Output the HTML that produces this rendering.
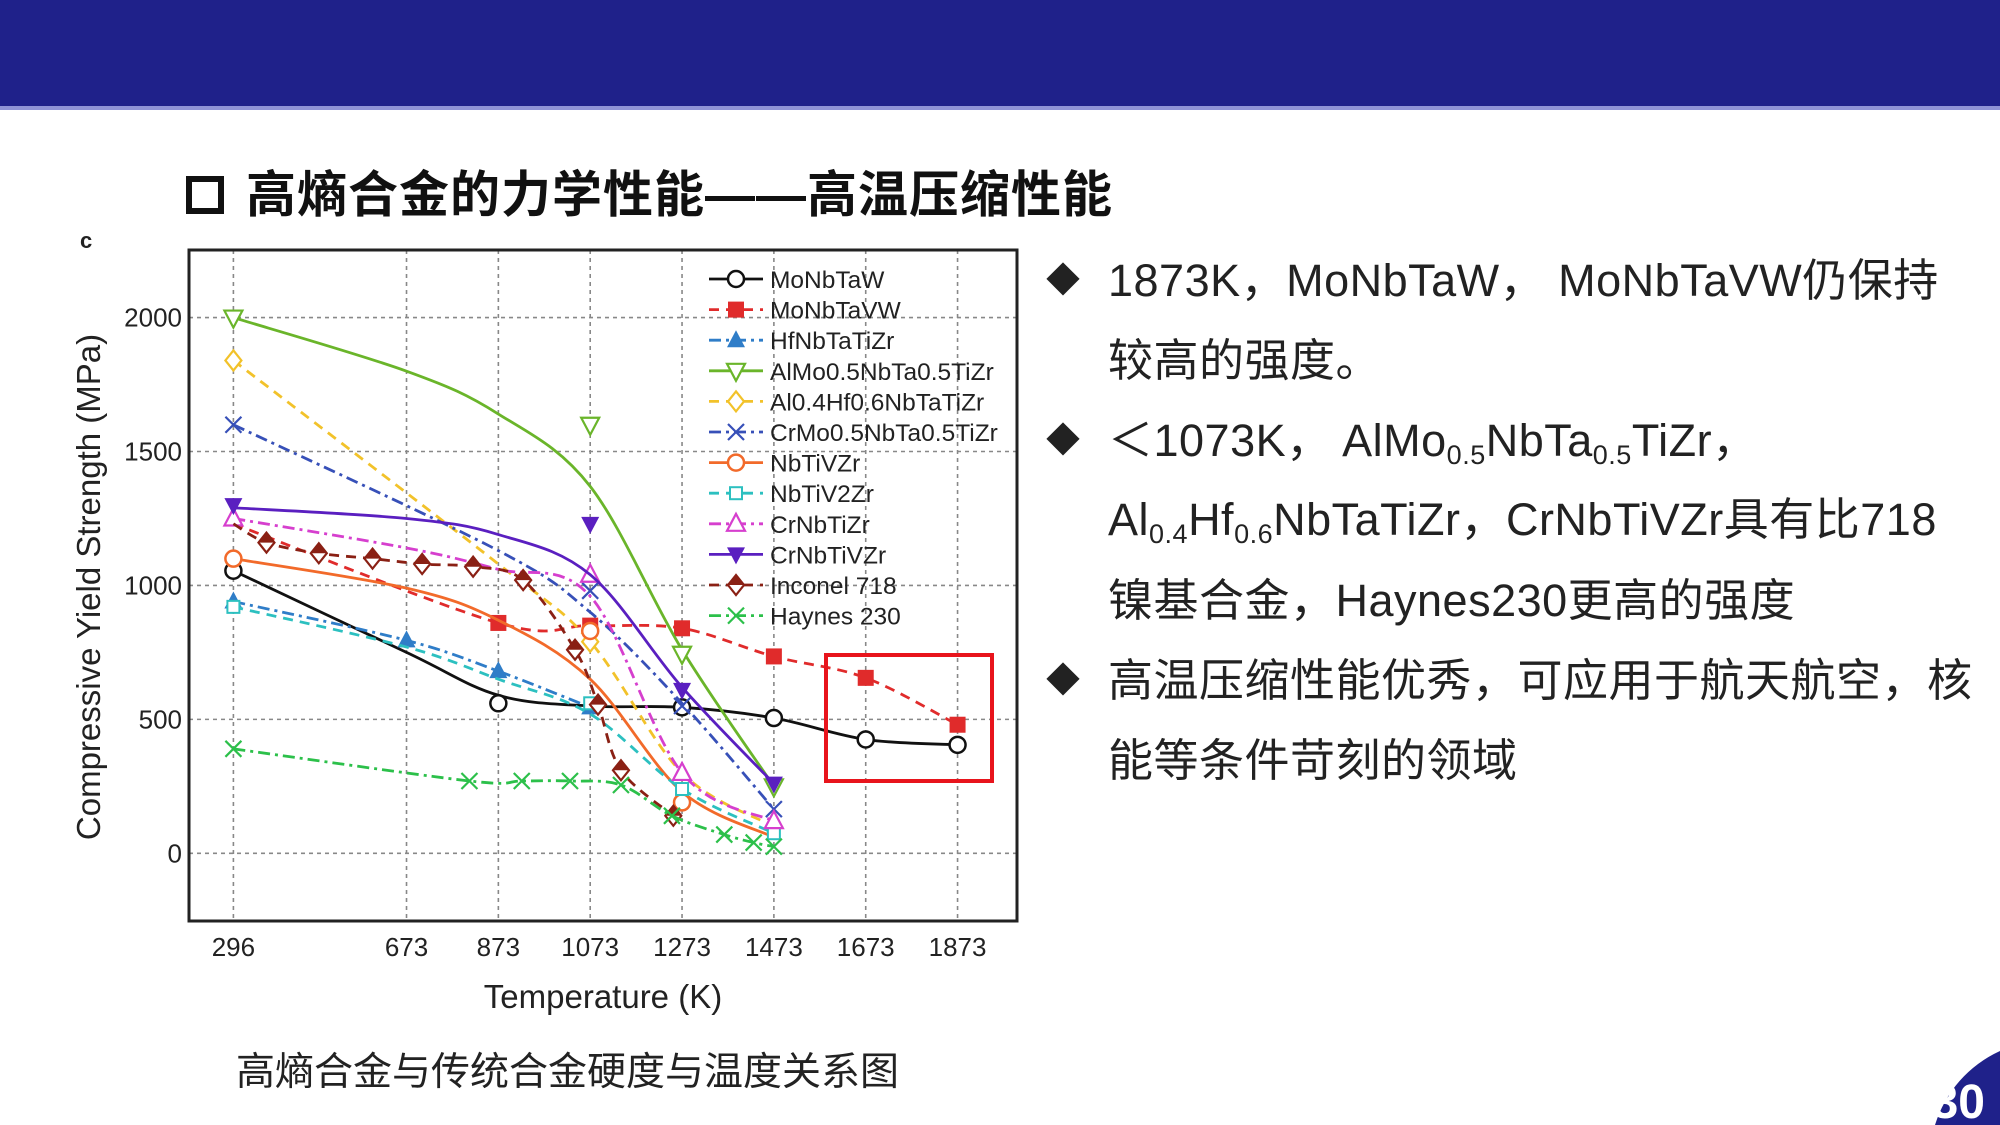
<!DOCTYPE html>
<html><head><meta charset="utf-8"><style>
html{margin:0;padding:0;width:2000px;height:1125px;overflow:hidden;}
body{margin:0;padding:0;background:#fff;width:2000px;height:1125px;overflow:hidden;position:relative;font-family:"Liberation Sans","Noto Sans CJK SC",sans-serif;}
.banner{position:absolute;left:0;top:0;width:2000px;height:106px;background:#1f218a;border-bottom:4px solid #8f93d6;}
.title{position:absolute;left:186px;top:165px;font-size:50px;font-weight:bold;color:#111;line-height:60px;white-space:nowrap;letter-spacing:1px;}
.title .box{display:inline-block;width:26px;height:26px;border:6px solid #111;margin-right:22px;vertical-align:-2px;}
.bul{position:absolute;left:1046px;font-size:45px;color:#222;line-height:80px;white-space:nowrap;letter-spacing:0.5px;}
.bul .d{position:absolute;left:0;font-size:34px;}
.bul .t{position:absolute;left:62px;}
sub{font-size:27px;vertical-align:-8px;line-height:0;}
.cap{position:absolute;left:236px;top:1048px;font-size:39px;line-height:50px;color:#222;white-space:nowrap;}
</style></head><body>
<div class="banner"></div>
<div class="title"><span class="box"></span>高熵合金的力学性能——高温压缩性能</div>

<div class="bul" style="top:241px"><span class="d">◆</span><span class="t">1873K，MoNbTaW， MoNbTaVW仍保持</span></div>
<div class="bul" style="top:321px"><span class="t">较高的强度。</span></div>
<div class="bul" style="top:401px"><span class="d">◆</span><span class="t">＜1073K， AlMo<sub>0.5</sub>NbTa<sub>0.5</sub>TiZr，</span></div>
<div class="bul" style="top:480px"><span class="t">Al<sub>0.4</sub>Hf<sub>0.6</sub>NbTaTiZr，CrNbTiVZr具有比718</span></div>
<div class="bul" style="top:561px"><span class="t">镍基合金，Haynes230更高的强度</span></div>
<div class="bul" style="top:641px"><span class="d">◆</span><span class="t">高温压缩性能优秀，可应用于航天航空，核</span></div>
<div class="bul" style="top:721px"><span class="t">能等条件苛刻的领域</span></div>

<div class="cap">高熵合金与传统合金硬度与温度关系图</div>

<svg width="2000" height="1125" style="position:absolute;left:0;top:0;overflow:hidden" id="chart">
<path d="M1935,1125 A120,120 0 0 1 2000,1051 L2000,1125 Z" fill="#1f218a"></path>
<text x="1985" y="1118" text-anchor="end" font-size="48" font-weight="bold" fill="#fff" font-family="Liberation Sans, sans-serif">30</text>
</svg>

<script>
const xTicks = [296,673,873,1073,1273,1473,1673,1873];
const yTicks = [0,500,1000,1500,2000];
const legendNames = ["MoNbTaW","MoNbTaVW","HfNbTaTiZr","AlMo0.5NbTa0.5TiZr","Al0.4Hf0.6NbTaTiZr","CrMo0.5NbTa0.5TiZr","NbTiVZr","NbTiV2Zr","CrNbTiZr","CrNbTiVZr","Inconel 718","Haynes 230"];

const moNbTaW_T = [296,673,873,1073,1273,1473,1673,1873];
const moNbTaW_V = [1055,750,590,550,545,505,425,405];
const moNbTaW_MT = [296,873,1273,1473,1673,1873];
const moNbTaW_MV = [1055,560,545,505,425,405];

const moNbTaVW_T = [296,873,1073,1273,1473,1673,1873];
const moNbTaVW_V = [1230,860,850,840,735,655,480];

const hf_T = [296,673,873,1073];
const hf_V = [940,795,680,545];

const alMo_T = [296,673,873,1073,1273,1473];
const alMo_V = [2000,1800,1640,1370,760,250];
const alMo_MT = [296,1073,1273,1473];
const alMo_MV = [2000,1600,745,250];

const alHf_T = [296,873,1073,1273,1473];
const alHf_V = [1840,1080,790,300,100];
const alHf_MT = [296,1073,1473];
const alHf_MV = [1840,790,100];

const crMo_T = [296,873,1073,1273,1473];
const crMo_V = [1600,1130,900,560,165];
const crMo_MT = [296,1073,1273,1473];
const crMo_MV = [1600,980,550,165];

const nbTiVZr_T = [296,673,873,1073,1273,1473];
const nbTiVZr_V = [1100,990,870,650,230,60];
const nbTiVZr_MT = [296,1073,1273];
const nbTiVZr_MV = [1100,830,190];

const nbTiV2Zr_T = [296,673,873,1073,1273,1473];
const nbTiV2Zr_V = [920,770,650,520,240,75];
const nbTiV2Zr_MT = [296,1073,1273,1473];
const nbTiV2Zr_MV = [920,560,240,75];

const crNbTiZr_T = [296,673,873,1073,1273,1473];
const crNbTiZr_V = [1250,1140,1060,960,300,120];
const crNbTiZr_MT = [296,1073,1273,1473];
const crNbTiZr_MV = [1250,1040,300,120];

const crNbTiVZr_T = [296,673,873,1073,1273,1473];
const crNbTiVZr_V = [1290,1250,1190,1040,620,260];
const crNbTiVZr_MT = [296,1073,1273,1473];
const crNbTiVZr_MV = [1300,1230,610,260];

const inconel_T = [296,368,482,599,707,818,927,1040,1090,1140,1254];
const inconel_V = [1230,1160,1120,1100,1080,1070,1020,760,555,310,140];
const inconel_MT = [368,482,599,707,818,927,1040,1090,1140,1254];
const inconel_MV = [1160,1120,1100,1080,1070,1020,760,555,310,140];

const haynes_T = [296,810,924,1029,1140,1251,1365,1429,1473];
const haynes_V = [390,270,270,270,255,140,70,40,25];

const NS = "http://www.w3.org/2000/svg";
const svg = document.getElementById('chart');
const L=189,R=1017,T=250,B=921;
function xs(t){return 233.4+(t-296)*0.4592;}
function ys(v){return 853.3-v*0.26786;}
function mk(tag,attrs,parent){const e=document.createElementNS(NS,tag);for(const k in attrs)e.setAttribute(k,attrs[k]);(parent||svg).appendChild(e);return e;}

xTicks.forEach(t=>{
  const g=mk('line',{x1:xs(t),x2:xs(t),y1:T,y2:B,stroke:'#888','stroke-width':1.6,'stroke-dasharray':'4 4'});
  
  
  const lb=mk('text',{x:xs(t),y:956,'text-anchor':'middle','font-size':26,fill:'#222'});
  lb.textContent=t;
  
  
});
yTicks.forEach(v=>{
  const g=mk('line',{x1:L,x2:R,y1:ys(v),y2:ys(v),stroke:'#888','stroke-width':1.6,'stroke-dasharray':'4 4'});
  
  
  const lb=mk('text',{x:182,y:ys(v)+9,'text-anchor':'end','font-size':26,fill:'#222'});
  lb.textContent=v;
  
  
});
const frame=mk('rect',{x:L,y:T,width:R-L,height:B-T,fill:'none',stroke:'#222','stroke-width':3});



const cl=mk('text',{x:80,y:248,'font-size':22,'font-weight':'bold',fill:'#222'});cl.textContent='c';


const yt=mk('text',{x:0,y:0,'font-size':33,fill:'#222','text-anchor':'middle',transform:'translate(100,587) rotate(-90)'});yt.textContent='Compressive Yield Strength (MPa)';


const xt=mk('text',{x:603,y:1008,'font-size':33,fill:'#222','text-anchor':'middle'});xt.textContent='Temperature (K)';



function pathD(Ts,Vs){
  const p=Ts.map((t,i)=>[xs(t),ys(Vs[i])]);
  let d='M'+p[0][0]+','+p[0][1];
  for(let i=0;i<p.length-1;i++){
    const p0=p[i-1]||p[i],p1=p[i],p2=p[i+1],p3=p[i+2]||p2;
    const c1=[p1[0]+(p2[0]-p0[0])/6,p1[1]+(p2[1]-p0[1])/6];
    const c2=[p2[0]-(p3[0]-p1[0])/6,p2[1]-(p3[1]-p1[1])/6];
    d+=' C'+c1+' '+c2+' '+p2;
  }
  return d;
}
function marker(type,x,y,color,g){
  const s=8;let e;
  if(type==='circle'||type==='ocircle') e=mk('circle',{cx:x,cy:y,r:s,fill:'#fff',stroke:color,'stroke-width':2.5},g);
  else if(type==='fsquare') e=mk('rect',{x:x-s,y:y-s,width:2*s,height:2*s,fill:color},g);
  else if(type==='osquare') e=mk('rect',{x:x-6,y:y-6,width:12,height:12,fill:'#fff',stroke:color,'stroke-width':2},g);
  else if(type==='ftri') e=mk('polygon',{points:`${x},${y-s-2} ${x-s-1},${y+s-1} ${x+s+1},${y+s-1}`,fill:color},g);
  else if(type==='otri') e=mk('polygon',{points:`${x},${y-s-2} ${x-s-1},${y+s-1} ${x+s+1},${y+s-1}`,fill:'#fff',stroke:color,'stroke-width':2.2},g);
  else if(type==='odtri') e=mk('polygon',{points:`${x},${y+s+2} ${x-s-1},${y-s+1} ${x+s+1},${y-s+1}`,fill:'#fff',stroke:color,'stroke-width':2.2},g);
  else if(type==='fdtri') e=mk('polygon',{points:`${x},${y+s+2} ${x-s-1},${y-s+1} ${x+s+1},${y-s+1}`,fill:color},g);
  else if(type==='odia') e=mk('polygon',{points:`${x},${y-s-2} ${x-s},${y} ${x},${y+s+2} ${x+s},${y}`,fill:'#fff',stroke:color,'stroke-width':2.2},g);
  else if(type==='hdia'){ e=mk('polygon',{points:`${x},${y-s-2} ${x-s},${y} ${x},${y+s+2} ${x+s},${y}`,fill:'#fff',stroke:color,'stroke-width':2.2},g); mk('polygon',{points:`${x},${y-s-2} ${x-s},${y} ${x+s},${y}`,fill:color},g);}
  else if(type==='x'){ e=mk('path',{d:`M${x-s},${y-s}L${x+s},${y+s}M${x-s},${y+s}L${x+s},${y-s}`,stroke:color,'stroke-width':2.2,fill:'none'},g);}
  
  
}
const series=[
 {T:moNbTaW_T,V:moNbTaW_V,MT:moNbTaW_MT,MV:moNbTaW_MV,c:'#111',dash:'',m:'circle',name:'series-monbtaw'},
 {T:moNbTaVW_T,V:moNbTaVW_V,MT:moNbTaVW_T.slice(1),MV:moNbTaVW_V.slice(1),c:'#e02b2b',dash:'10 7',m:'fsquare',name:'series-monbtavw'},
 {T:hf_T,V:hf_V,MT:hf_T,MV:hf_V,c:'#2f7dc8',dash:'12 5 3 5',m:'ftri',name:'series-hfnbtatizr'},
 {T:alMo_T,V:alMo_V,MT:alMo_MT,MV:alMo_MV,c:'#6ab52a',dash:'',m:'odtri',name:'series-almo'},
 {T:alHf_T,V:alHf_V,MT:alHf_MT,MV:alHf_MV,c:'#f2c22a',dash:'10 7',m:'odia',name:'series-alhf'},
 {T:crMo_T,V:crMo_V,MT:crMo_MT,MV:crMo_MV,c:'#3750b8',dash:'12 5 3 5',m:'x',name:'series-crmo'},
 {T:nbTiVZr_T,V:nbTiVZr_V,MT:nbTiVZr_MT,MV:nbTiVZr_MV,c:'#f26a2a',dash:'',m:'ocircle',name:'series-nbtivzr'},
 {T:nbTiV2Zr_T,V:nbTiV2Zr_V,MT:nbTiV2Zr_MT,MV:nbTiV2Zr_MV,c:'#2cc0c0',dash:'10 7',m:'osquare',name:'series-nbtiv2zr'},
 {T:crNbTiZr_T,V:crNbTiZr_V,MT:crNbTiZr_MT,MV:crNbTiZr_MV,c:'#d63fce',dash:'12 5 3 5',m:'otri',name:'series-crnbtizr'},
 {T:crNbTiVZr_T,V:crNbTiVZr_V,MT:crNbTiVZr_MT,MV:crNbTiVZr_MV,c:'#5a1fc0',dash:'',m:'fdtri',name:'series-crnbtivzr'},
 {T:inconel_T,V:inconel_V,MT:inconel_MT,MV:inconel_MV,c:'#8a2014',dash:'10 7',m:'hdia',name:'series-inconel-718'},
 {T:haynes_T,V:haynes_V,MT:haynes_T,MV:haynes_V,c:'#2cc04a',dash:'12 5 3 5',m:'x',name:'series-haynes-230'}
];
series.forEach((s,i)=>{
  const g=mk('g',{});
  
  
  const p=mk('path',{d:pathD(s.T,s.V),fill:'none',stroke:s.c,'stroke-width':2.8,'stroke-dasharray':s.dash},g);
  
  
  s.MT.forEach((t,j)=>marker(s.m,xs(t),ys(s.MV[j]),s.c,g));
  const ly=279+i*30.6;
  const lg=mk('g',{});
  
  
  mk('line',{x1:709,x2:763,y1:ly,y2:ly,stroke:s.c,'stroke-width':2.8,'stroke-dasharray':s.dash},lg);
  marker(s.m,736,ly,s.c,lg);
  const tx=mk('text',{x:770,y:ly+9,'font-size':24.5,fill:'#222'},lg);
  tx.textContent=legendNames[i];
});
const box=mk('rect',{x:826,y:655,width:166,height:126,fill:'none',stroke:'#e8141c','stroke-width':4});


</script>
</body></html>
